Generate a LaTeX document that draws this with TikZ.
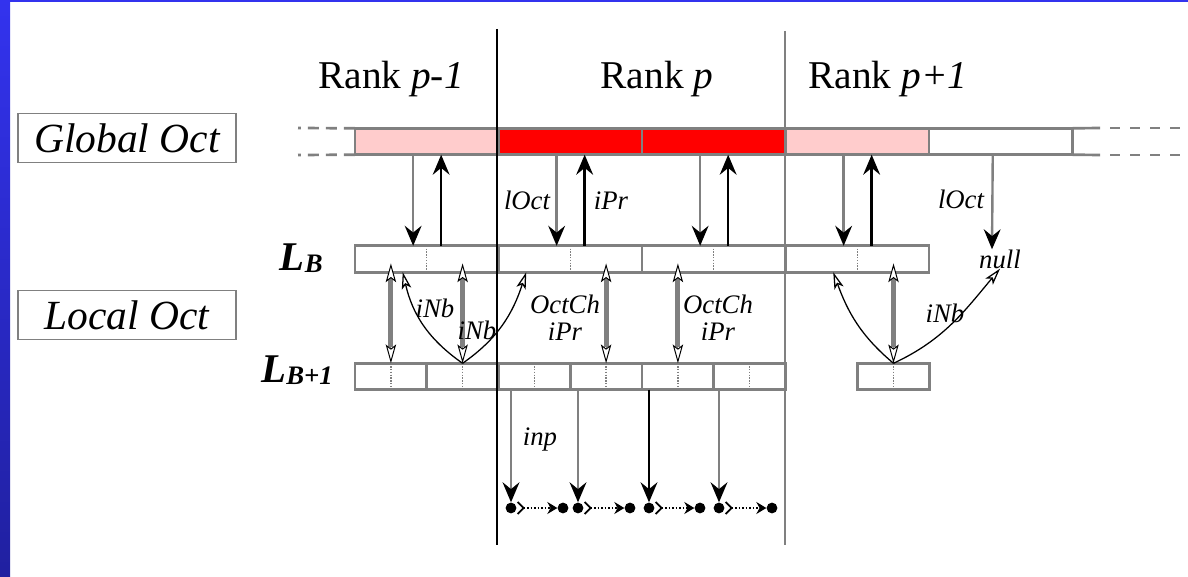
\documentclass[tikz,border=0pt]{standalone}
\usepackage{fontspec}
\setmainfont{Liberation Serif}
\usetikzlibrary{arrows.meta}

\definecolor{frameblue}{RGB}{51,51,238}
\definecolor{framedark}{RGB}{32,32,160}
\definecolor{octpink}{RGB}{255,204,204}
\definecolor{octred}{RGB}{255,0,0}
\definecolor{bargray}{RGB}{128,128,128}

\begin{document}
\begin{tikzpicture}[
  x=0.025cm, y=-0.025cm,
  rank/.style={font=\fontsize{28}{30}\selectfont, anchor=base, inner sep=0},
  tag/.style={draw=bargray, line width=0.8pt, font=\fontsize{29.5}{31}\selectfont\itshape,
    minimum width=5.45cm, minimum height=1.22cm, inner sep=0},
  lvl/.style={font=\fontsize{29}{31}\selectfont\bfseries\itshape, anchor=base east, inner sep=0},
  lbl/.style={font=\fontsize{19}{19.5}\selectfont\itshape, inner sep=0, align=center},
  gcell/.style={rectangle, draw=bargray, line width=1.9pt, minimum width=3.5875cm,
    minimum height=0.66cm, inner sep=0, outer sep=0},
  ccell/.style={gcell, minimum width=1.794cm},
  mid/.style={bargray, line width=1pt, densely dotted},
  sep/.style={line width=1.4pt},
  gdash/.style={bargray, line width=1.9pt, dash pattern=on 0.28cm off 0.17cm},
  down/.style={bargray, line width=1.7pt,
    -{Stealth[color=black, length=0.5cm, width=0.42cm, inset=0.17cm]}},
  up/.style={down, black},
  link/.style={line width=0.9pt,
    -{Stealth[fill=white, length=0.42cm, width=0.24cm, inset=0.1cm]}},
  dbl/.style={draw=bargray, line width=0.7pt, shorten >=-0.22cm,
    {Stealth[color=black, fill=white, length=0.47cm, width=0.26cm, inset=0.1cm]}-{Stealth[color=black, fill=white, length=0.47cm, width=0.26cm, inset=0.1cm]},
    preaction={draw=bargray, line width=3.6pt, -, shorten <=0.4cm, shorten >=0.12cm}},
  dot/.style={circle, fill=black, minimum size=0.27cm, inner sep=0},
  chain/.style={line width=1pt, dash pattern=on 1pt off 1.5pt,
    {Straight Barb[reversed, length=0.15cm, width=0.3cm, line width=1.3pt]}-{Stealth[length=0.25cm, width=0.3cm]}},
]

% Frame
\fill[white] (0,0) rectangle (1188,577);
\useasboundingbox (0,0) rectangle (1188,577);
\shade[top color=frameblue, bottom color=framedark] (0,0) rectangle (10,577);
\fill[frameblue] (0,0) rectangle (1188,2.5);

% Row labels
\node[tag] (glob) at (127,138) {Global Oct};
\node[tag] (loc) at (127,315) {Local Oct};
\node[lvl] (lb) at (323,270) {L\raisebox{-2pt}{\fontsize{19}{19}\selectfont B}};
\node[lvl] (lbb) at (333,382) {L\raisebox{-2pt}{\fontsize{19}{19}\selectfont B+1}};

% Rank headers
\node[rank] (rk0) at (391,89) {Rank \textit{p-1}};
\node[rank] (rk1) at (657,89) {Rank \textit{p}};
\node[rank] (rk2) at (888,89) {Rank \textit{p+1}};

% Global octree array
\node[gcell, fill=octpink] (g0) at (426.75,141.5) {};
\node[gcell, fill=octred] (g1) at (570.25,141.5) {};
\node[gcell, fill=octred] (g2) at (713.75,141.5) {};
\node[gcell, fill=octpink] (g3) at (857.25,141.5) {};
\node[gcell] (g4) at (1000.75,141.5) {};
\coordinate (glT) at (298,128);
\coordinate (glB) at (298,155);
\coordinate (grT) at (1100,128);
\coordinate (grB) at (1100,155);
\coordinate (gdT) at (1110,128);
\coordinate (gdB) at (1110,155);
\coordinate (geT) at (1182,128);
\coordinate (geB) at (1182,155);
\draw[gdash] (g0.north west) -- (glT);
\draw[gdash] (g0.south west) -- (glB);
\draw[bargray, line width=1.9pt] (g4.north east) -- (grT);
\draw[bargray, line width=1.9pt] (g4.south east) -- (grB);
\draw[gdash, dash pattern=on 0.25cm off 0.25cm] (gdT) -- (geT);
\draw[gdash, dash pattern=on 0.25cm off 0.25cm] (gdB) -- (geB);

% Level B
\node[gcell] (b0) at (426.75,259) {};
\node[gcell] (b1) at (570.25,259) {};
\node[gcell] (b2) at (713.75,259) {};
\node[gcell] (b3) at (857.25,259) {};
\draw[mid] (b0.north) -- (b0.south);
\draw[mid] (b1.north) -- (b1.south);
\draw[mid] (b2.north) -- (b2.south);
\draw[mid] (b3.north) -- (b3.south);

% Level B+1
\node[ccell] (c0) at (390.9,376.5) {};
\node[ccell] (c1) at (462.6,376.5) {};
\node[ccell] (c2) at (534.4,376.5) {};
\node[ccell] (c3) at (606.1,376.5) {};
\node[ccell] (c4) at (677.9,376.5) {};
\node[ccell] (c5) at (749.6,376.5) {};
\node[ccell] (c6) at (893.5,376.5) {};
\draw[mid] (c0.north) -- (c0.south);
\draw[mid] (c1.north) -- (c1.south);
\draw[mid] (c2.north) -- (c2.south);
\draw[mid] (c3.north) -- (c3.south);
\draw[mid] (c4.north) -- (c4.south);
\draw[mid] (c5.north) -- (c5.south);
\draw[mid] (c6.north) -- (c6.south);

% Rank separators
\coordinate (s1a) at (497,29);
\coordinate (s1b) at (497,545);
\coordinate (s2a) at (785,31);
\coordinate (s2b) at (785,545);
\draw[sep] (s1a) -- (s1b);
\draw[sep, bargray, line width=2pt] (s2a) -- (s2b);

% Global <-> level B
\draw[down] ([xshift=-0.34cm]g0.south) -- ([xshift=-0.34cm]b0.north);
\draw[up] ([xshift=0.36cm]b0.north) -- ([xshift=0.36cm]g0.south);
\draw[down] ([xshift=-0.34cm]g1.south) -- ([xshift=-0.34cm]b1.north);
\draw[up] ([xshift=0.36cm]b1.north) -- ([xshift=0.36cm]g1.south);
\draw[down] ([xshift=-0.34cm]g2.south) -- ([xshift=-0.34cm]b2.north);
\draw[up] ([xshift=0.36cm]b2.north) -- ([xshift=0.36cm]g2.south);
\draw[down] ([xshift=-0.34cm]g3.south) -- ([xshift=-0.34cm]b3.north);
\draw[up] ([xshift=0.36cm]b3.north) -- ([xshift=0.36cm]g3.south);
\node[lbl] (lo0) at (527,200) {lOct};
\node[lbl] (ip0) at (611,201) {iPr};
\node[lbl] (lo1) at (961,199) {lOct};
\node[lbl] (null) at (1000,259) {null};
\draw[down] ([xshift=-0.2cm]g4.south) -- ([xshift=-0.2cm]null.north);

% Level B <-> level B+1
\draw[dbl] (c0.north) -- (c0.north |- b0.south);
\draw[dbl] (c1.north) -- (c1.north |- b0.south);
\draw[dbl] (c3.north) -- (c3.north |- b1.south);
\draw[dbl] (c4.north) -- (c4.north |- b2.south);
\draw[dbl] (c6.north) -- (c6.north |- b3.south);

% Neighbour links
\draw[link] (c1.north) to[out=145, in=-77] ([xshift=-0.6cm]b0.south);
\draw[link] (c1.north) to[out=35, in=-108] ([xshift=-1.1cm]b1.south);
\draw[link] (c6.north) to[out=140, in=-70] ([xshift=-0.6cm]b3.south);
\draw[link] (c6.north) to[out=25, in=-130] (null.south);
\node[lbl] (nb0) at (435,308) {iNb};
\node[lbl] (nb1) at (477,330) {iNb};
\node[lbl] (ch0) at (565,318) {OctCh\\iPr};
\node[lbl] (ch1) at (718,318) {OctCh\\iPr};
\node[lbl] (nb2) at (945,313) {iNb};

% Particle lists
\node[dot] (d1) at (511,508) {};
\node[dot] (e1) at (563,508) {};
\node[dot] (d2) at (578,508) {};
\node[dot] (e2) at (630,508) {};
\node[dot] (d3) at (649,508) {};
\node[dot] (e3) at (700,508) {};
\node[dot] (d4) at (719,508) {};
\node[dot] (e4) at (772,508) {};
\draw[down] (d1 |- c2.south) -- (d1);
\draw[down] (d2 |- c3.south) -- (d2);
\draw[up] (d3 |- c4.south) -- (d3);
\draw[down] (d4 |- c5.south) -- (d4);
\draw[chain] (d1) -- (e1);
\draw[chain] (d2) -- (e2);
\draw[chain] (d3) -- (e3);
\draw[chain] (d4) -- (e4);
\node[lbl] (inp) at (540,439) {inp};

\end{tikzpicture}
\end{document}
